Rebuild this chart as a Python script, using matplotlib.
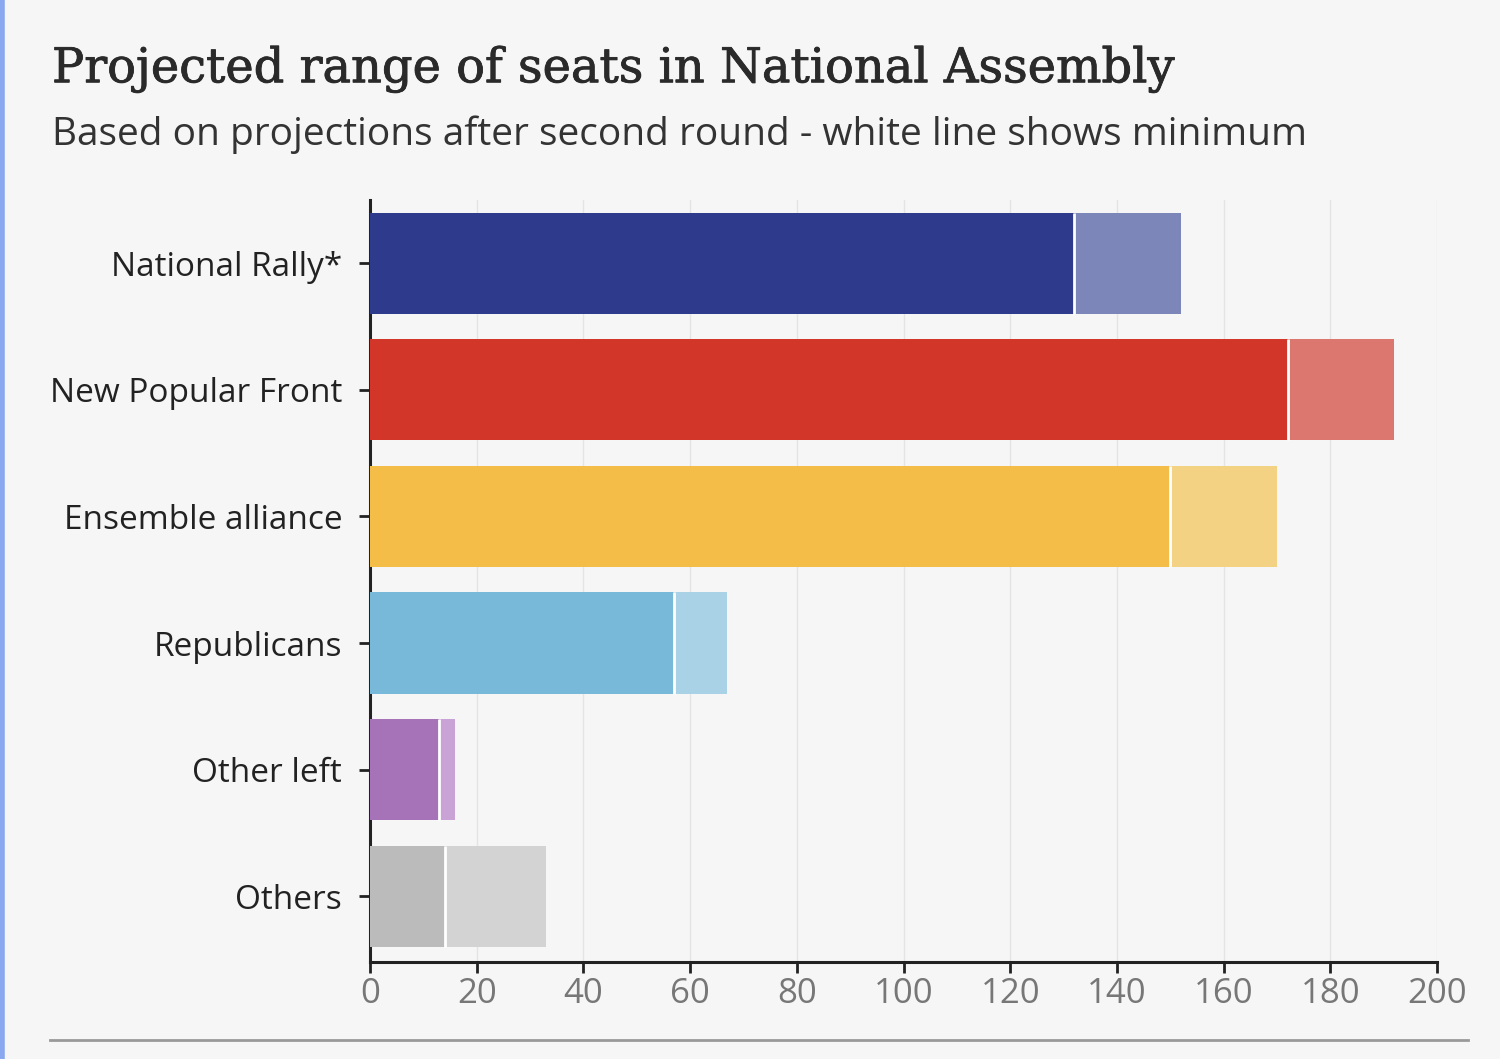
import numpy as np
import matplotlib.pyplot as plt
import matplotlib.patheffects as pe
from matplotlib.lines import Line2D

# Данные: минимум и максимум прогноза мест
parties = ["National Rally*", "New Popular Front", "Ensemble alliance",
           "Republicans", "Other left", "Others"]
seats_min = [132, 172, 150, 57, 13, 14]
seats_max = [152, 192, 170, 67, 16, 33]
dark_colors = ["#2e3a8c", "#d13628", "#f3bd48", "#78b8d8", "#a673b8", "#bbbbbb"]
light_colors = ["#7d86b9", "#dc7770", "#f4d283", "#a9d2e6", "#c9a2d6", "#d3d3d3"]
x_ticks = [0, 20, 40, 60, 80, 100, 120, 140, 160, 180, 200]

bg = "#f6f6f6"
fig = plt.figure(figsize=(15, 10.59), dpi=100, facecolor=bg)
ax = fig.add_axes([370 / 1500, 1 - 962 / 1059, 1067 / 1500, 762 / 1059])
ax.set_facecolor(bg)

y = np.arange(len(parties))
ax.barh(y, seats_max, height=0.8, color=light_colors, zorder=2)
ax.barh(y, seats_min, height=0.8, color=dark_colors, zorder=3)
ax.vlines(seats_min, y - 0.4, y + 0.4, color="white", lw=2, zorder=4)

ax.set_ylim(len(parties) - 0.5 + 0.02, -0.5)
ax.set_xlim(0, 200)
ax.set_xticks(x_ticks)
ax.set_yticks(y)
ax.set_yticklabels(parties)
ax.grid(axis="x", color="#e4e4e4", lw=1, zorder=0)
ax.set_axisbelow(True)

for s in ["top", "right"]:
    ax.spines[s].set_visible(False)
for s in ["left", "bottom"]:
    ax.spines[s].set_linewidth(2.2)
    ax.spines[s].set_color("#222222")
ax.tick_params(axis="y", length=8, width=2, color="#222222", pad=12,
               labelsize=24, labelcolor="#222222")
ax.tick_params(axis="x", length=8, width=2, color="#222222", pad=3,
               labelsize=25, labelcolor="#777777")
for lab in ax.get_yticklabels() + ax.get_xticklabels():
    lab.set_family("Open Sans")

fig.text(52 / 1500, 1 - 69 / 1059, "Projected range of seats in National Assembly",
         family="DejaVu Serif", fontsize=34.5, color="#2a2a2a", va="center",
         path_effects=[pe.withStroke(linewidth=0.6, foreground="#2a2a2a")])
fig.text(52 / 1500, 1 - 135 / 1059,
         "Based on projections after second round - white line shows minimum",
         family="Open Sans", fontsize=28, color="#333333", va="center")

# Линия под графиком и синяя полоса слева
fig.add_artist(Line2D([50 / 1500, 1468 / 1500], [1 - 1040 / 1059] * 2,
                      color="#999999", lw=2))
fig.add_artist(Line2D([2 / 1500, 2 / 1500], [0, 1], color="#8aa8f0", lw=4))

fig.savefig("out.png", dpi=100, facecolor=bg)
